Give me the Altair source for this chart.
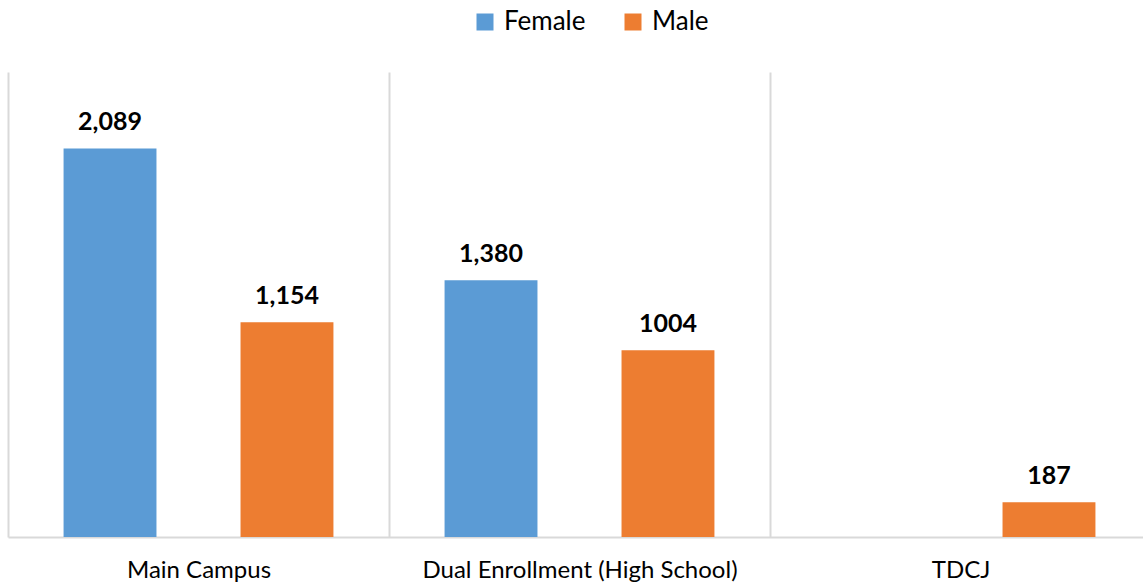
import altair as alt
import pandas as pd

# Enrollment headcount by location and gender
locations = ["Main Campus", "Dual Enrollment (High School)", "TDCJ"]
genders = ["Female", "Male"]

row_location = ["Main Campus", "Main Campus",
                "Dual Enrollment (High School)", "Dual Enrollment (High School)",
                "TDCJ"]
row_gender = ["Female", "Male", "Female", "Male", "Male"]
row_count = [2089, 1154, 1380, 1004, 187]
row_label = ["2,089", "1,154", "1,380", "1004", "187"]

df = pd.DataFrame({
    "Location": row_location,
    "Gender": row_gender,
    "Count": row_count,
    "Label": row_label,
})

FONT = "Lato"
GRID = "#d9d9d9"

x_enc = alt.X(
    "Location:N",
    sort=locations,
    scale=alt.Scale(domain=locations, paddingInner=0, paddingOuter=0,
                    range=[0, 1143]),
    axis=alt.Axis(
        title=None, labelAngle=0, ticks=False, tickBand="extent",
        grid=True, gridColor=GRID, gridWidth=2,
        domainColor=GRID, domainWidth=2,
        labelFontSize=24, labelFont=FONT, labelColor="#000000",
        labelBaseline="alphabetic", labelPadding=40, labelLimit=0,
    ),
)
xoff_enc = alt.XOffset(
    "Gender:N",
    scale=alt.Scale(domain=genders, paddingInner=0.475, paddingOuter=0.314),
)
y_enc = alt.Y(
    "Count:Q",
    scale=alt.Scale(domain=[0, 2500], nice=False),
    axis=None,
)

bars = alt.Chart(df).mark_bar().encode(
    x=x_enc,
    xOffset=xoff_enc,
    y=y_enc,
    color=alt.Color(
        "Gender:N",
        scale=alt.Scale(domain=genders, range=["#5B9BD5", "#ED7D31"]),
        legend=alt.Legend(
            title=None, orient="none", direction="horizontal",
            legendX=464, legendY=-63,
            symbolType="square", symbolSize=289, symbolStrokeWidth=0,
            labelFontSize=26, labelFont=FONT, labelColor="#000000",
            columnPadding=34, labelOffset=6,
        ),
    ),
)

labels = alt.Chart(df).mark_text(
    baseline="alphabetic", dy=-18, fontSize=25, fontWeight="bold", font=FONT,
    color="#000000",
).encode(
    x=x_enc,
    xOffset=xoff_enc,
    y=y_enc,
    text="Label:N",
)

chart = alt.layer(bars, labels).properties(
    width=1135,
    height=465,
    background="#ffffff",
    padding={"left": 8, "top": 72, "right": 0, "bottom": 49},
    autosize=alt.AutoSizeParams(type="none"),
).configure_view(stroke=None, strokeWidth=0)

chart.save("out.html", embed_options={"renderer": "svg", "actions": False})
